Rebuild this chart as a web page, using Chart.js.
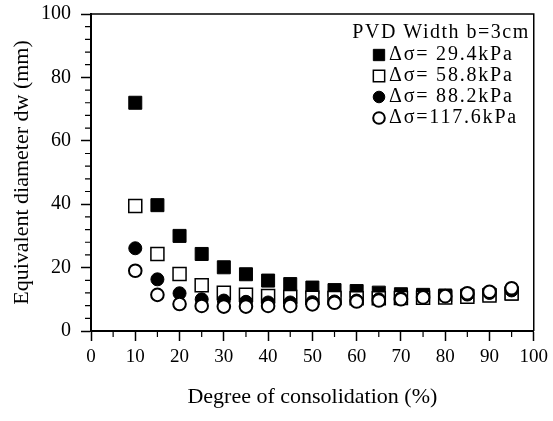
<!DOCTYPE html>
<html lang="en">
<head>
<meta charset="UTF-8">
<title>Equivalent diameter vs degree of consolidation</title>
<script src="https://cdn.jsdelivr.net/npm/chart.js"></script>
<style>
  html, body { margin: 0; padding: 0; background: #fff; }
  #wrap { width: 553px; height: 421px; }
</style>
</head>
<body>
<div id="wrap"><canvas id="chart"></canvas></div>
<script>
// Degree of consolidation (%)
const degree = [10, 15, 20, 25, 30, 35, 40, 45, 50, 55, 60, 65, 70, 75, 80, 85, 90, 95];

// Equivalent diameter dw (mm), one array per load step
const dw294  = [72.0, 39.7, 30.0, 24.3, 20.1, 17.9, 15.9, 14.8, 13.7, 12.9, 12.6, 12.1, 11.6, 11.4, 11.2, 11.2, 11.5, 11.8];
const dw588  = [39.4, 24.3, 18.0, 14.4, 12.1, 11.4, 11.0, 10.7, 10.5, 10.4, 10.3, 10.3, 10.4, 10.5, 10.6, 10.8, 11.2, 11.8];
const dw882  = [26.1, 16.3, 11.9, 10.0, 9.6, 9.2, 9.0, 9.0, 9.1, 9.3, 9.6, 10.0, 10.3, 10.7, 11.0, 11.5, 12.0, 12.8];
const dw1176 = [19.0, 11.4, 8.5, 7.9, 7.7, 7.7, 7.9, 7.9, 8.4, 8.9, 9.3, 9.6, 10.0, 10.6, 11.0, 11.9, 12.4, 13.5];

const seriesLabels = ['\u0394\u03c3= 29.4kPa', '\u0394\u03c3= 58.8kPa', '\u0394\u03c3= 88.2kPa', '\u0394\u03c3=117.6kPa'];
const legendTitle = 'PVD Width b=3cm';

const xTicks = [0, 10, 20, 30, 40, 50, 60, 70, 80, 90, 100];
const yTicks = [0, 20, 40, 60, 80, 100];

const FONT = "'Liberation Serif', 'DejaVu Serif', serif";

function toPoints(ys) {
  return degree.map((d, i) => ({ x: d, y: ys[i] }));
}

// kotak + minor tick + legenda di dalam plot
const framePlugin = {
  id: 'frame',
  afterDraw(chart) {
    const ctx = chart.ctx;
    const a = chart.chartArea;
    const xs = chart.scales.x, ys = chart.scales.y;
    ctx.save();
    ctx.strokeStyle = '#000';
    ctx.lineWidth = 1.5;
    ctx.beginPath();
    ctx.moveTo(a.left, a.top);
    ctx.lineTo(a.right, a.top);
    ctx.lineTo(a.right, a.bottom);
    ctx.stroke();

    // minor ticks
    ctx.lineWidth = 1.2;
    ctx.beginPath();
    for (let v = 5; v < 100; v += 10) {
      const px = xs.getPixelForValue(v);
      ctx.moveTo(px, a.bottom);
      ctx.lineTo(px, a.bottom + 6);
    }
    for (let v = 4; v < 100; v += 4) {
      if (v % 20 === 0) continue;
      const py = ys.getPixelForValue(v);
      ctx.moveTo(a.left, py);
      ctx.lineTo(a.left - 6, py);
    }
    ctx.stroke();

    // legend
    ctx.fillStyle = '#000';
    ctx.textBaseline = 'middle';
    ctx.font = '20px ' + FONT;
    ctx.letterSpacing = '1.5px';
    ctx.textAlign = 'right';
    ctx.fillText(legendTitle, a.right - 4, 33);
    ctx.textAlign = 'left';
    ctx.font = '20px ' + FONT;
    ctx.letterSpacing = '1.8px';
    const rowY = [55, 76, 97, 118];
    chart.data.datasets.forEach((ds, i) => {
      const y = rowY[i];
      const opts = {
        pointStyle: ds.pointStyle,
        radius: ds.pointStyle === 'rect' ? 8 : 5.8,
        rotation: 0,
        borderWidth: ds.pointBorderWidth
      };
      ctx.fillStyle = ds.pointBackgroundColor;
      ctx.strokeStyle = ds.pointBorderColor;
      ctx.lineWidth = ds.pointBorderWidth;
      Chart.helpers.drawPoint(ctx, opts, 379, y);
      ctx.fillStyle = '#000';
      ctx.fillText(ds.label, 389, y);
    });
    ctx.restore();
  }
};

const ctx = document.getElementById('chart').getContext('2d');
new Chart(ctx, {
  type: 'scatter',
  data: {
    datasets: [
      { label: seriesLabels[0], data: toPoints(dw294), pointStyle: 'rect', pointRadius: 9.2,
        pointBackgroundColor: '#000', pointBorderColor: '#000', pointBorderWidth: 1, order: 3 },
      { label: seriesLabels[1], data: toPoints(dw588), pointStyle: 'rect', pointRadius: 9.2,
        pointBackgroundColor: '#fff', pointBorderColor: '#000', pointBorderWidth: 1.5, order: 2 },
      { label: seriesLabels[2], data: toPoints(dw882), pointStyle: 'circle', pointRadius: 6.5,
        pointBackgroundColor: '#000', pointBorderColor: '#000', pointBorderWidth: 1, order: 1 },
      { label: seriesLabels[3], data: toPoints(dw1176), pointStyle: 'circle', pointRadius: 6.3,
        pointBackgroundColor: '#fff', pointBorderColor: '#000', pointBorderWidth: 2, order: 0 }
    ]
  },
  options: {
    responsive: true,
    maintainAspectRatio: false,
    animation: false,
    devicePixelRatio: 1,
    layout: { padding: { left: 0, right: 18, top: 14, bottom: 0 } },
    plugins: { legend: { display: false }, tooltip: { enabled: false } },
    scales: {
      x: {
        type: 'linear', min: 0, max: 100,
        afterBuildTicks: s => { s.ticks = xTicks.map(v => ({ value: v })); },
        afterFit: s => { s.height = 90; },
        ticks: { color: '#000', font: { family: FONT, size: 19 }, padding: 5, maxRotation: 0 },
        grid: { drawOnChartArea: false, tickLength: 10, tickColor: '#000', tickWidth: 1.5 },
        border: { color: '#000', width: 2 },
        title: { display: true, text: 'Degree of consolidation (%)', color: '#000',
                 font: { family: FONT, size: 22 }, padding: { top: 0, bottom: 11 } }
      },
      y: {
        type: 'linear', min: 0, max: 100,
        afterBuildTicks: s => { s.ticks = yTicks.map(v => ({ value: v })); },
        afterFit: s => { s.width = 91; s.paddingTop = 0; s.paddingBottom = 0; },
        ticks: { color: '#000', font: { family: FONT, size: 20 }, padding: 10 },
        grid: { drawOnChartArea: false, tickLength: 10, tickColor: '#000', tickWidth: 1.5 },
        border: { color: '#000', width: 2 },
        title: { display: true, text: 'Equivalent diameter dw (mm)', color: '#000',
                 font: { family: FONT, size: 22 }, padding: { top: 9, bottom: 0 } }
      }
    }
  },
  plugins: [framePlugin]
});
</script>
</body>
</html>
